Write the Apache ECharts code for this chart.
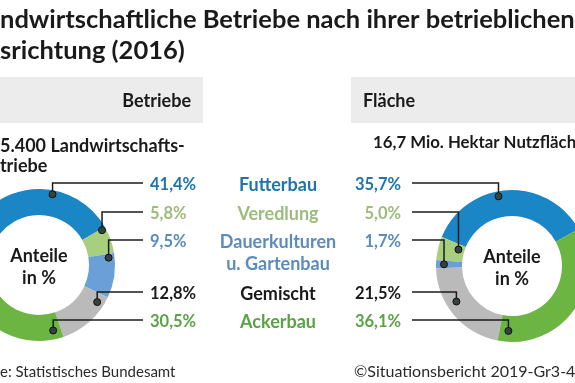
<!DOCTYPE html>
<html><head><meta charset="utf-8">
<script src="https://cdn.jsdelivr.net/npm/echarts@6/dist/echarts.min.js"></script>
<style>html,body{margin:0;padding:0;background:#fff;overflow:hidden}#c{width:575px;height:383px}</style>
</head><body><div id="c"></div>
<script>
// ---------- data ----------
const categories = ['Futterbau', 'Veredlung', 'Dauerkulturen\nu. Gartenbau', 'Gemischt', 'Ackerbau'];
const betriebeShare = [41.4, 5.8, 9.5, 12.8, 30.5];
const flaecheShare = [35.7, 5.0, 1.7, 21.5, 36.1];
const titleLines = ['Landwirtschaftliche Betriebe nach ihrer betrieblichen', 'Ausrichtung (2016)'];
const panelTitles = ['Betriebe', 'Fläche'];
const totals = ['275.400 Landwirtschafts-', 'betriebe', '16,7 Mio. Hektar Nutzfläche'];
const centerText = 'Anteile\nin %';
const sourceText = 'Quelle: Statistisches Bundesamt';
const creditText = '©Situationsbericht 2019-Gr3-4';

// ---------- styles / layout ----------
const FONT = 'Lato, "Open Sans", sans-serif';
const ringColors = ['#1a86c6', '#a8cf7e', '#6aa0d8', '#bababa', '#6db543'];
const textColors = ['#1f74aa', '#9dbb7c', '#5b8bbd', '#1a1a1a', '#5aa345'];
const L = { cx: 39, cy: 265, rOut: 76, rIn: 50, start: 179, clockwise: true };
const R = { cx: 512, cy: 266, rOut: 76, rIn: 50, start: 29, clockwise: false };
const rowY = [185, 214, 242, 294, 322];
const catY = [185, 214, 253, 294, 322];
const anchorL = [[0.67, 72], [0.05, 72], [0.09, 70], [0.16, 69], [0.06, 67]];
const anchorR = [[0.56, 71], [0.3, 56], [0.5, 68], [0.4, 66], [0.06, 65]];
const leftLineEnd = 143, leftValueX = 150, rightLineStart = 412, rightValueX = 401, catX = 278;

const fmt = v => v.toFixed(1).replace('.', ',') + '%';
const ctx = document.createElement('canvas').getContext('2d');
function tw(str, font) { ctx.font = font; return ctx.measureText(str).width; }

function anchorData(values, anchors) {
  let cum = 0;
  return values.map((v, i) => {
    const a = cum + anchors[i][0] * v;
    cum += v;
    return [anchors[i][1], a, i];
  });
}

function leaderSeries(values, anchors, polarIndex, side) {
  return {
    type: 'custom', coordinateSystem: 'polar', polarIndex: polarIndex, z: 10, silent: true,
    data: anchorData(values, anchors),
    renderItem: function (params, api) {
      const i = api.value(2);
      const p = api.coord([api.value(0), api.value(1)]);
      const y = rowY[i] - 2;
      const endX = side === 'left' ? leftLineEnd : rightLineStart;
      return {
        type: 'group', children: [
          { type: 'polyline', shape: { points: [[p[0], p[1]], [p[0], y], [endX, y]] },
            style: { stroke: '#1c1c1c', lineWidth: 1.5, fill: null } },
          { type: 'circle', shape: { cx: p[0], cy: p[1], r: 3.5 },
            style: { fill: '#34443d', stroke: '#111', lineWidth: 1 } },
          { type: 'text', style: {
              x: side === 'left' ? leftValueX : rightValueX, y: rowY[i], text: fmt(values[i]),
              fill: textColors[i], font: 'bold 16.5px ' + FONT,
              align: side === 'left' ? 'left' : 'right', verticalAlign: 'middle' } }
        ]
      };
    }
  };
}

function pieSeries(values, G) {
  return {
    type: 'pie', center: [G.cx, G.cy], radius: [G.rIn, G.rOut], startAngle: G.start,
    clockwise: G.clockwise, silent: true, label: { show: false }, labelLine: { show: false },
    data: values.map((v, i) => ({ value: v, name: categories[i], itemStyle: { color: ringColors[i] } }))
  };
}

const titleFont = 'bold 25.5px ' + FONT;
const subFont = 'bold 18px ' + FONT;
const footFont = '15px ' + FONT;
const creditFont = '16px ' + FONT;

const graphic = [
  { type: 'rect', shape: { x: 0, y: 77, width: 203, height: 46 }, style: { fill: '#ececec' } },
  { type: 'rect', shape: { x: 351, y: 77, width: 224, height: 46 }, style: { fill: '#ececec' } },
  { type: 'text', x: -tw('La', titleFont), y: 20, style: { text: titleLines[0], font: titleFont, fill: '#1a1a1a', verticalAlign: 'middle' } },
  { type: 'text', x: -tw('Au', titleFont), y: 51, style: { text: titleLines[1], font: titleFont, fill: '#1a1a1a', verticalAlign: 'middle' } },
  { type: 'text', x: 191, y: 101, style: { text: panelTitles[0], font: subFont, fill: '#1a1a1a', align: 'right', verticalAlign: 'middle' } },
  { type: 'text', x: 363, y: 101, style: { text: panelTitles[1], font: subFont, fill: '#1a1a1a', verticalAlign: 'middle' } },
  { type: 'text', x: -tw('27', subFont), y: 146, style: { text: totals[0], font: subFont, fill: '#1a1a1a', verticalAlign: 'middle' } },
  { type: 'text', x: -tw('be', subFont), y: 166, style: { text: totals[1], font: subFont, fill: '#1a1a1a', verticalAlign: 'middle' } },
  { type: 'text', x: 373, y: 143, style: { text: totals[2], font: 'bold 16.8px ' + FONT, fill: '#1a1a1a', verticalAlign: 'middle' } },
  { type: 'text', x: L.cx, y: L.cy + 2, style: { text: centerText, font: subFont, fill: '#1a1a1a', align: 'center', verticalAlign: 'middle', lineHeight: 22 } },
  { type: 'text', x: R.cx, y: R.cy + 2, style: { text: centerText, font: subFont, fill: '#1a1a1a', align: 'center', verticalAlign: 'middle', lineHeight: 22 } },
  { type: 'text', x: -tw('Quell', footFont), y: 372, style: { text: sourceText, font: footFont, fill: '#2a2a2a', verticalAlign: 'middle' } },
  { type: 'text', x: 354, y: 372, style: { text: creditText, font: creditFont, fill: '#2a2a2a', verticalAlign: 'middle' } }
];
categories.forEach((c, i) => {
  graphic.push({ type: 'text', x: catX, y: catY[i], z: 20,
    style: { text: c, font: 'bold 18px ' + FONT, fill: textColors[i], align: 'center', verticalAlign: 'middle', lineHeight: 22 } });
});

const chart = echarts.init(document.getElementById('c'), null, { renderer: 'canvas' });
const hiddenAxis = { show: false, axisLine: { show: false }, splitLine: { show: false }, axisLabel: { show: false }, axisTick: { show: false } };
chart.setOption({
  animation: false,
  backgroundColor: '#ffffff',
  polar: [
    { center: [L.cx, L.cy], radius: L.rOut },
    { center: [R.cx, R.cy], radius: R.rOut }
  ],
  angleAxis: [
    Object.assign({ polarIndex: 0, type: 'value', min: 0, max: 100, startAngle: L.start, clockwise: L.clockwise }, hiddenAxis),
    Object.assign({ polarIndex: 1, type: 'value', min: 0, max: 100, startAngle: R.start, clockwise: R.clockwise }, hiddenAxis)
  ],
  radiusAxis: [
    Object.assign({ polarIndex: 0, type: 'value', min: 0, max: L.rOut }, hiddenAxis),
    Object.assign({ polarIndex: 1, type: 'value', min: 0, max: R.rOut }, hiddenAxis)
  ],
  graphic: graphic,
  series: [
    pieSeries(betriebeShare, L),
    pieSeries(flaecheShare, R),
    leaderSeries(betriebeShare, anchorL, 0, 'left'),
    leaderSeries(flaecheShare, anchorR, 1, 'right')
  ]
});
</script>
</body></html>
